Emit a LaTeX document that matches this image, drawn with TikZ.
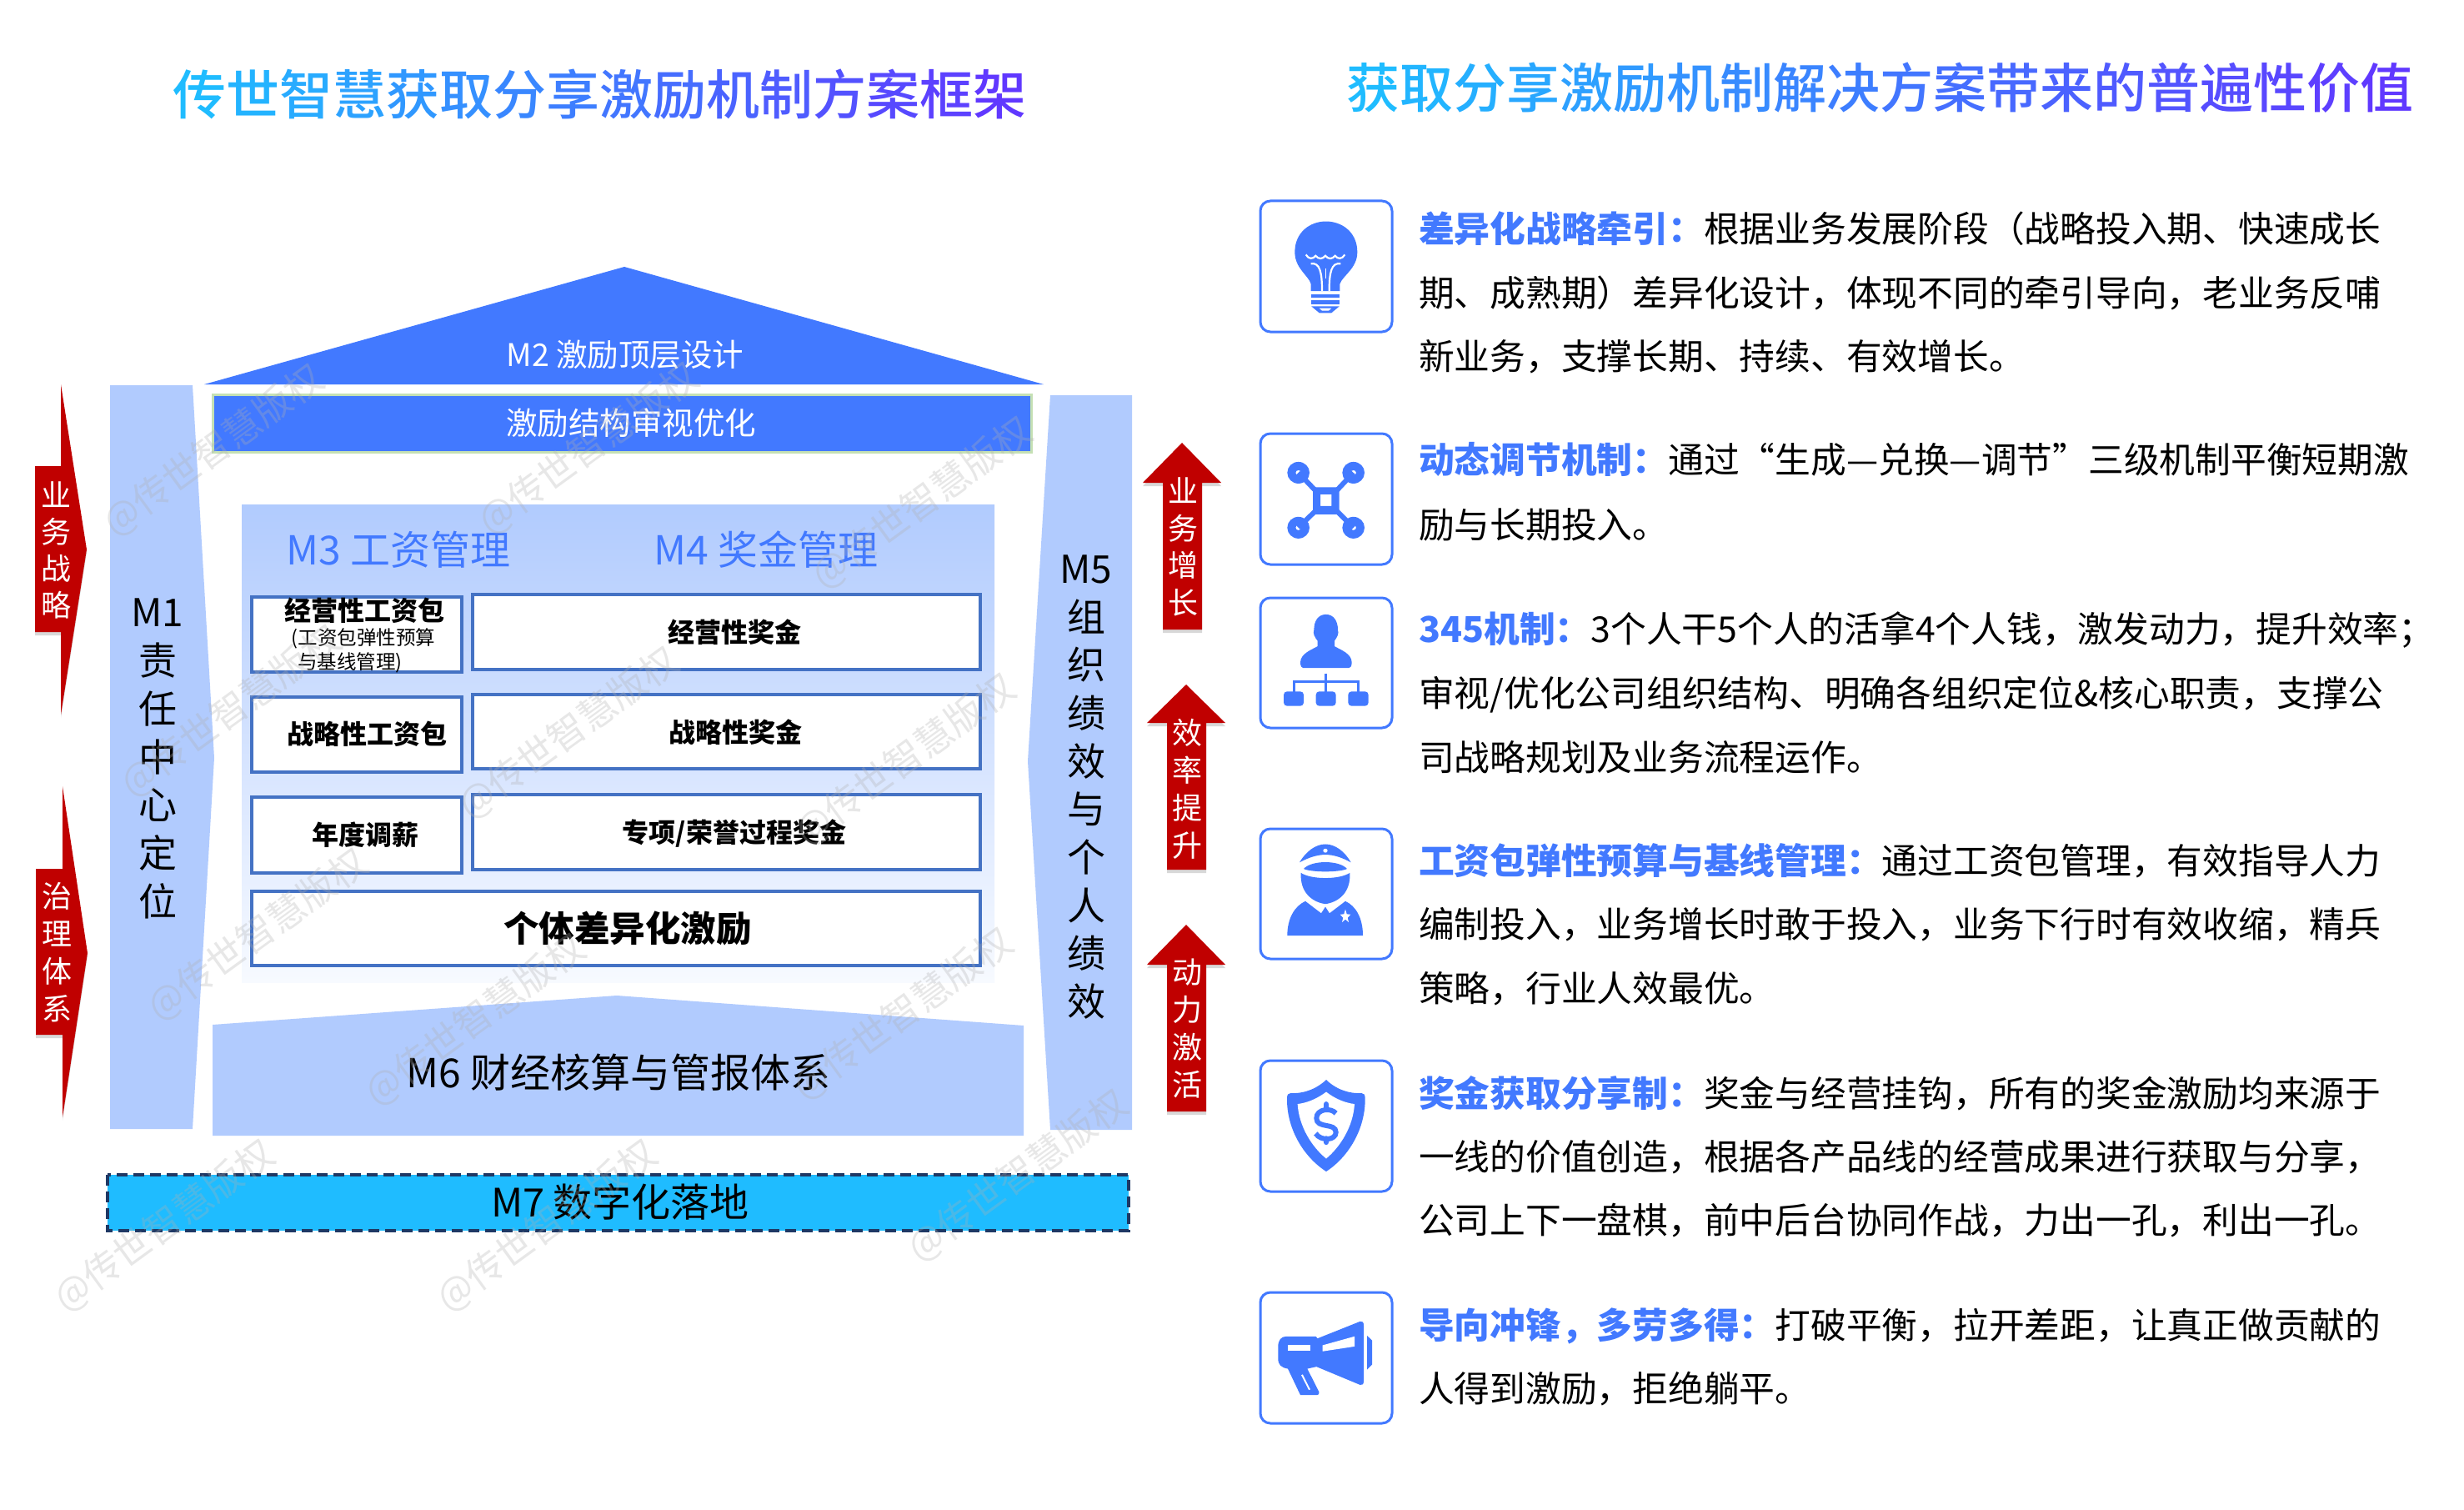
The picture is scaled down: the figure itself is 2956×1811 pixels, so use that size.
\documentclass[tikz,border=0pt]{standalone}
\usepackage{fontspec}
\setmainfont{Noto Sans CJK SC}
\newfontfamily\medf{Noto Sans CJK SC Medium}
\definecolor{mblue}{HTML}{4279FF}
\definecolor{pale}{HTML}{B1CBFE}
\definecolor{fade}{HTML}{F7FAFF}
\definecolor{cyanbar}{HTML}{1FBCFF}
\definecolor{redar}{HTML}{C00000}
\definecolor{boxline}{HTML}{4472C4}
\definecolor{barline}{HTML}{C5E0B4}
\definecolor{dashline}{HTML}{1F3864}
\definecolor{wmgray}{HTML}{B0B0B0}
\definecolor{tA}{HTML}{1FBCFF}
\definecolor{tB}{HTML}{6038FF}
\newcommand\gc[2]{\textcolor{tB!#1!tA}{#2}}
\tikzset{
  tx/.style={font=\fontsize{#1}{#1}\selectfont,inner sep=0pt,text height=.88*#1pt,text depth=.12*#1pt},
  vt/.style 2 args={font=\fontsize{#1}{#2}\selectfont,inner sep=0pt,align=center},
  line/.style={tx=42.75,anchor=base west},
  wbox/.style={draw=boxline,line width=3.6pt,fill=white},
  iconbox/.style={draw=mblue,line width=3pt,fill=white,rounded corners=12pt},
  ic/.style={fill=mblue,draw=none},
  wm/.style={tx=45,rotate=36,text=wmgray,text opacity=.3},
  redarrow/.style={fill=redar,drop shadow={shadow xshift=0pt,shadow yshift=-4pt,opacity=.3}},
  icA/.style={x=.33333pt,y=-.43367pt,shift={(1490pt,-220pt)}},
  icB/.style={x=.33333pt,y=-.48465pt,shift={(1490pt,-980pt)}},
}
\usetikzlibrary{shadows}
\newcommand\lead[1]{\textcolor{mblue}{\bfseries #1}}
\begin{document}
\begin{tikzpicture}[x=1pt,y=-1pt]
\useasboundingbox (0,0) rectangle (2956,1811);
\fill[white] (0,0) rectangle (2956,1811);

% titles
\node[tx=64] (t1) at (719,113) {\medf\gc{0}{传}\gc{7}{世}\gc{13}{智}\gc{20}{慧}\gc{27}{获}\gc{33}{取}\gc{40}{分}\gc{47}{享}\gc{53}{激}\gc{60}{励}\gc{67}{机}\gc{73}{制}\gc{80}{方}\gc{87}{案}\gc{93}{框}\gc{100}{架}};
\node[tx=64] (t2) at (2255,105) {\medf\gc{0}{获}\gc{5}{取}\gc{10}{分}\gc{16}{享}\gc{21}{激}\gc{26}{励}\gc{32}{机}\gc{37}{制}\gc{42}{解}\gc{47}{决}\gc{53}{方}\gc{58}{案}\gc{63}{带}\gc{68}{来}\gc{74}{的}\gc{79}{普}\gc{84}{遍}\gc{89}{性}\gc{95}{价}\gc{100}{值}};

% roof and bar
\fill[mblue] (245,461) -- (749,320) -- (1252,461) -- cycle;
\node[tx=37.5,text=white] (m2) at (750,425) {M2 激励顶层设计};
\draw[fill=mblue,draw=barline,line width=3pt] (255,473) rectangle (1237,542);
\node[tx=37.5,text=white] (bar) at (757,507) {激励结构审视优化};

% pillars
\fill[pale] (132,462) -- (231,462) -- (257,909) -- (231,1354) -- (132,1354) -- cycle;
\node[vt={46}{57.7}] (m1) at (189,910) {M1\\责\\任\\中\\心\\定\\位};
\fill[pale] (1260,474) -- (1358,474) -- (1358,1355) -- (1260,1355) -- (1233,913) -- cycle;
\node[vt={46}{57.7}] (m5) at (1303,944) {M5\\组\\织\\绩\\效\\与\\个\\人\\绩\\效};

% central panel
\fill[top color=pale,bottom color=fade] (290,605) rectangle (1193,1178);
\node[tx=48,text=mblue] (m3) at (478,659) {M3 工资管理};
\node[tx=48,text=mblue] (m4) at (919,659) {M4 奖金管理};

\draw[wbox] (302,716) rectangle (554,806);
\draw[wbox] (302,836) rectangle (554,926);
\draw[wbox] (302,956) rectangle (554,1047);
\draw[wbox] (567,713) rectangle (1176,803);
\draw[wbox] (567,833) rectangle (1176,922);
\draw[wbox] (567,953) rectangle (1176,1043);
\draw[wbox] (302,1069) rectangle (1176,1158);

\node[tx=32] (a1) at (437,732) {\bfseries 经营性工资包};
\node[tx=23.5] (a1b) at (436,765) {(工资包弹性预算};
\node[tx=23.5] (a1c) at (420,794) {与基线管理)};
\node[tx=32] (a2) at (440,880) {\bfseries 战略性工资包};
\node[tx=32] (a3) at (438,1001) {\bfseries 年度调薪};
\node[tx=32] (b1) at (881,758) {\bfseries 经营性奖金};
\node[tx=32] (b2) at (882,878) {\bfseries 战略性奖金};
\node[tx=32] (b3) at (881,998) {\bfseries 专项/荣誉过程奖金};
\node[tx=42.5] (big) at (753,1113) {\bfseries 个体差异化激励};

% M6, M7
\fill[pale] (255,1229) -- (740,1194) -- (1228,1230) -- (1228,1362) -- (255,1362) -- cycle;
\node[tx=48] (m6) at (742,1286) {M6 财经核算与管报体系};
\draw[fill=cyanbar,draw=dashline,line width=4pt,dash pattern=on 13pt off 7pt] (129,1409) rectangle (1354,1476);
\node[tx=47] (m7) at (744,1442) {M7 数字化落地};

% left red arrows
\path[redarrow] (42,559) -- (73,559) -- (73,461) -- (104,659) -- (73,857) -- (73,758) -- (42,758) -- cycle;
\node[vt={36}{44},text=white] (l1) at (67,660) {业\\务\\战\\略};
\path[redarrow] (43,1042) -- (75,1042) -- (75,943) -- (105,1143) -- (75,1340) -- (75,1241) -- (43,1241) -- cycle;
\node[vt={36}{45},text=white] (l2) at (68,1142) {治\\理\\体\\系};

% right red arrows
\path[redarrow] (1418,531) -- (1465,579) -- (1442,579) -- (1442,755) -- (1395,755) -- (1395,579) -- (1371,579) -- cycle;
\node[vt={36}{44.5},text=white] (r1) at (1419,656) {业\\务\\增\\长};
\path[redarrow] (1423,821) -- (1470,867) -- (1447,867) -- (1447,1043) -- (1400,1043) -- (1400,867) -- (1376,867) -- cycle;
\node[vt={36}{45},text=white] (r2) at (1424,946) {效\\率\\提\\升};
\path[redarrow] (1423,1109) -- (1470,1157) -- (1447,1157) -- (1447,1333) -- (1400,1333) -- (1400,1157) -- (1376,1157) -- cycle;
\node[vt={36}{45},text=white] (r3) at (1424,1234) {动\\力\\激\\活};

% icon boxes
\draw[iconbox] (1512,241) rectangle (1670,398);
\draw[iconbox] (1512,520) rectangle (1670,677);
\draw[iconbox] (1512,717) rectangle (1670,873);
\draw[iconbox] (1512,994) rectangle (1670,1150);
\draw[iconbox] (1512,1272) rectangle (1670,1429);
\draw[iconbox] (1512,1550) rectangle (1670,1707);

% bulb, drone, person (coordinates of the upper icon column)
\begin{scope}[icA]
\fill[ic] (248,298) -- (248,278) .. controls (240,255) and (190,235) .. (190,190) .. controls (190,135) and (245,105) .. (302,105) .. controls (360,105) and (415,135) .. (415,190) .. controls (415,235) and (362,255) .. (352,278) -- (352,298) -- cycle;
\draw[white,line width=2.2pt] (230,197) .. controls (240,210) and (255,210) .. (265,200) .. controls (275,210) and (290,210) .. (300,200) .. controls (310,210) and (325,210) .. (335,200) .. controls (345,210) and (360,210) .. (370,197);
\draw[white,line width=2.2pt] (248,222) .. controls (280,218) and (288,245) .. (288,298);
\draw[white,line width=2.2pt] (355,222) .. controls (322,218) and (314,245) .. (314,298);
\draw[white,line width=1.6pt] (301,235) -- (301,262);
\fill[ic] (250,306) rectangle (350,316);
\fill[ic] (250,322) rectangle (350,335);
\fill[ic] (250,340) -- (350,340) -- (322,358) -- (278,358) -- cycle;
\fill[white] (278,345) -- (322,345) -- (312,352) -- (288,352) -- cycle;

\draw[mblue,line width=6pt] (203,800) -- (265,850) (401,800) -- (340,850) (203,952) -- (265,905) (401,952) -- (340,905);
\fill[ic,even odd rule] (255,840) rectangle (350,915) (282,860) rectangle (322,892);
\foreach \cx/\cy in {203/800,401/800,203/952,401/952}
  \fill[ic,even odd rule] (\cx,\cy) ellipse [x radius=40,y radius=30] (\cx,\cy) ellipse [x radius=10,y radius=7];

\fill[ic] (302,1192) .. controls (330,1192) and (345,1210) .. (345,1235) .. controls (350,1245) and (342,1255) .. (333,1265) -- (333,1280) .. controls (355,1290) and (395,1300) .. (395,1325) .. controls (395,1335) and (390,1340) .. (385,1340) -- (220,1340) .. controls (215,1340) and (210,1335) .. (210,1325) .. controls (210,1300) and (250,1290) .. (272,1280) -- (272,1265) .. controls (262,1255) and (254,1245) .. (259,1235) .. controls (259,1210) and (274,1192) .. (302,1192) -- cycle;
\draw[mblue,line width=3pt] (302,1355) -- (302,1410) (186,1410) -- (186,1378) -- (418,1378) -- (418,1410);
\fill[ic,rounded corners=4pt] (150,1405) rectangle (222,1445);
\fill[ic,rounded corners=4pt] (266,1405) rectangle (338,1445);
\fill[ic,rounded corners=4pt] (382,1405) rectangle (455,1445);
\end{scope}

% police, shield, megaphone (coordinates of the lower icon column)
\begin{scope}[icB]
\fill[ic] (207,112) .. controls (230,85) and (265,67) .. (300,67) .. controls (335,67) and (370,85) .. (392,112) .. controls (360,100) and (330,93) .. (300,93) .. controls (270,93) and (240,100) .. (207,112) -- cycle;
\fill[white] (300,83) ellipse [x radius=8,y radius=5];
\fill[ic] (222,128) .. controls (250,106) and (350,106) .. (378,128) .. controls (350,137) and (250,137) .. (222,128) -- cycle;
\fill[ic] (212,138) .. controls (250,155) and (350,155) .. (388,138) .. controls (392,185) and (350,210) .. (300,215) .. controls (250,210) and (208,185) .. (212,138) -- cycle;
\fill[ic] (163,293) .. controls (163,250) and (190,220) .. (228,208) -- (285,238) -- (300,222) -- (315,238) -- (372,208) .. controls (410,220) and (435,250) .. (435,293) -- cycle;
\fill[white] (372,228) -- (377,240) -- (391,241) -- (380,249) -- (384,260) -- (372,253) -- (360,260) -- (364,249) -- (353,241) -- (367,240) -- cycle;

\fill[ic] (303,650) .. controls (340,675) and (390,685) .. (430,683) .. controls (438,683) and (443,687) .. (443,695) .. controls (445,770) and (385,840) .. (303,877) .. controls (220,840) and (160,770) .. (162,695) .. controls (162,687) and (167,683) .. (175,683) .. controls (215,685) and (265,675) .. (303,650) -- cycle;
\fill[white] (303,680) .. controls (335,697) and (370,707) .. (405,710) .. controls (400,765) and (355,815) .. (303,845) .. controls (250,815) and (205,765) .. (200,710) .. controls (235,707) and (270,697) .. (303,680) -- cycle;
\draw[mblue,line width=6pt] (338,733) .. controls (320,718) and (268,722) .. (268,745) .. controls (268,772) and (338,755) .. (338,780) .. controls (338,800) and (285,803) .. (265,783);
\draw[mblue,line width=6pt,line cap=round] (303,710) -- (303,722) (303,795) -- (303,805);

\fill[ic] (160,1285) -- (265,1285) -- (272,1290) -- (425,1248) .. controls (433,1246) and (438,1250) .. (438,1258) -- (438,1395) .. controls (438,1403) and (433,1407) .. (425,1405) -- (268,1360) -- (235,1365) -- (277,1422) .. controls (280,1428) and (275,1430) .. (270,1430) -- (210,1430) -- (165,1365) .. controls (140,1362) and (130,1355) .. (130,1340) -- (130,1310) .. controls (130,1295) and (140,1285) .. (160,1285) -- cycle;
\fill[white] (165,1307) rectangle (245,1320);
\fill[white] (290,1307) -- (405,1285) -- (405,1310) -- (290,1322) -- cycle;
\draw[white,line width=2pt] (216,1380) -- (243,1417);
\fill[ic] (450,1283) -- (468,1295) -- (468,1355) -- (450,1367) -- cycle;
\end{scope}

% right column text
\node[line] (p1a) at (1702,290.5) {\lead{差异化战略牵引：}根据业务发展阶段（战略投入期、快速成长};
\node[line] (p1b) at (1702,367.5) {期、成熟期）差异化设计，体现不同的牵引导向，老业务反哺};
\node[line] (p1c) at (1702,443.5) {新业务，支撑长期、持续、有效增长。};
\node[line] (p2a) at (1702,567.5) {\lead{动态调节机制：}通过“生成—兑换—调节”三级机制平衡短期激};
\node[line] (p2b) at (1702,645.5) {励与长期投入。};
\node[line] (p3a) at (1702,770.5) {\lead{345机制：}3个人干5个人的活拿4个人钱，激发动力，提升效率；};
\node[line] (p3b) at (1702,847.5) {审视/优化公司组织结构、明确各组织定位\&核心职责，支撑公};
\node[line] (p3c) at (1702,924.5) {司战略规划及业务流程运作。};
\node[line] (p4a) at (1702,1048.5) {\lead{工资包弹性预算与基线管理：}通过工资包管理，有效指导人力};
\node[line] (p4b) at (1702,1124.5) {编制投入，业务增长时敢于投入，业务下行时有效收缩，精兵};
\node[line] (p4c) at (1702,1201.5) {策略，行业人效最优。};
\node[line] (p5a) at (1702,1327.5) {\lead{奖金获取分享制：}奖金与经营挂钩，所有的奖金激励均来源于};
\node[line] (p5b) at (1702,1403.5) {一线的价值创造，根据各产品线的经营成果进行获取与分享，};
\node[line] (p5c) at (1702,1479.5) {公司上下一盘棋，前中后台协同作战，力出一孔，利出一孔。};
\node[line] (p6a) at (1702,1605.5) {\lead{导向冲锋，多劳多得：}打破平衡，拉开差距，让真正做贡献的};
\node[line] (p6b) at (1702,1681.5) {人得到激励，拒绝躺平。};

% watermarks
\node[wm] (w1) at (255,539) {@传世智慧版权};
\node[wm] (w2) at (705,537) {@传世智慧版权};
\node[wm] (w3) at (1105,602) {@传世智慧版权};
\node[wm] (w4) at (276,852) {@传世智慧版权};
\node[wm] (w5) at (681,878) {@传世智慧版权};
\node[wm] (w6) at (1085,910) {@传世智慧版权};
\node[wm] (w7) at (308,1120) {@传世智慧版权};
\node[wm] (w8) at (569,1222) {@传世智慧版权};
\node[wm] (w9) at (1082,1215) {@传世智慧版权};
\node[wm] (w10) at (196,1469) {@传世智慧版权};
\node[wm] (w11) at (655,1469) {@传世智慧版权};
\node[wm] (w12) at (1220,1409) {@传世智慧版权};
\end{tikzpicture}
\end{document}
